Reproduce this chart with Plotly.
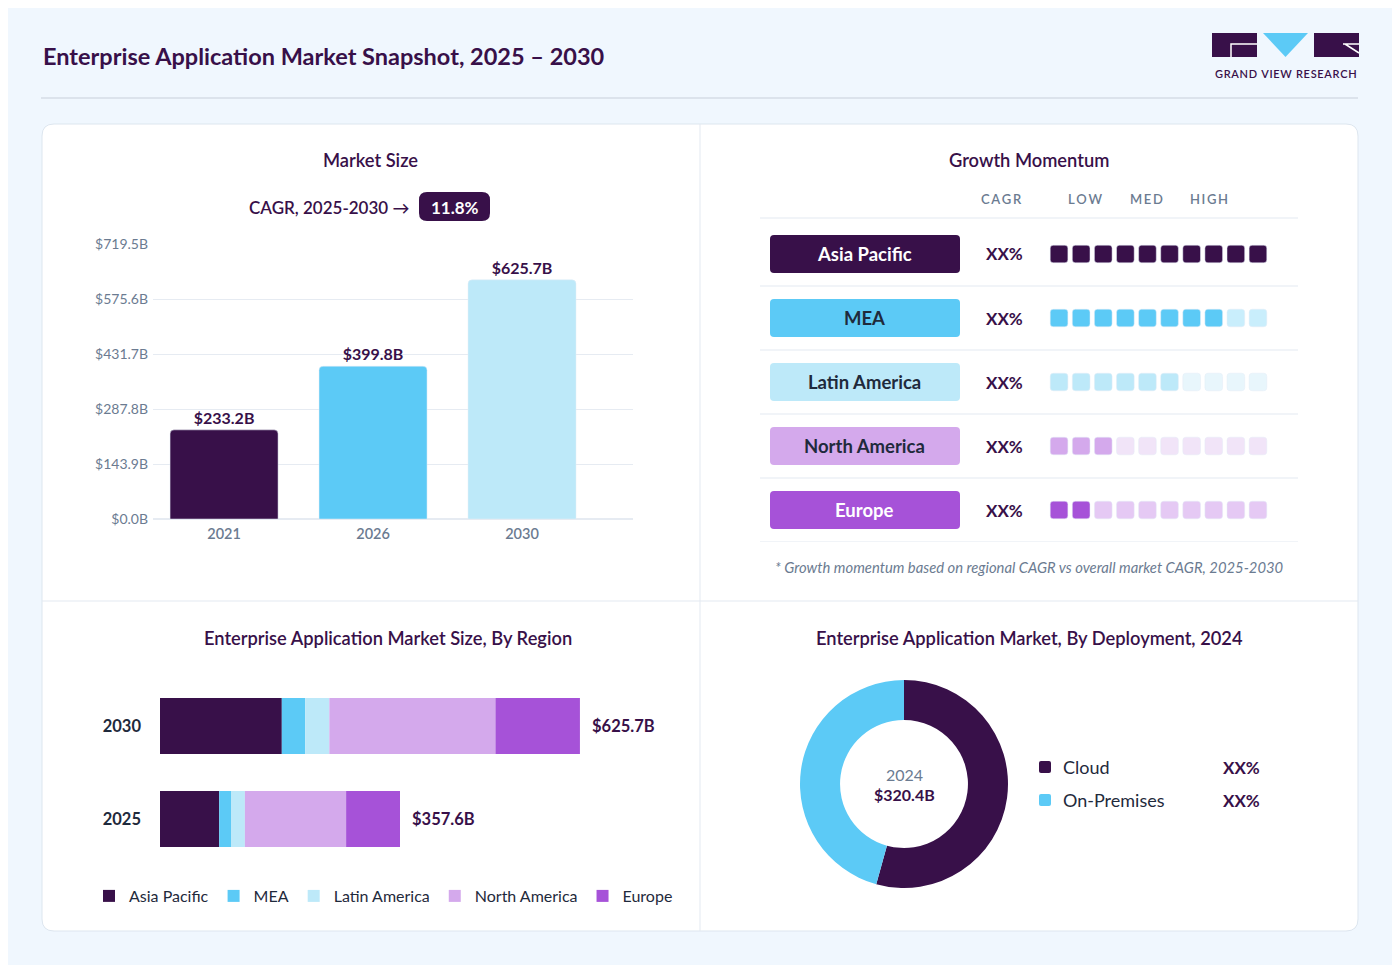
import plotly.graph_objects as go

W, H = 1400, 965
OFF = 8  # page body margin

DARK = "#381049"
BLUE = "#5ccaf6"
PALE = "#bde9f9"
LAV = "#d4a9ec"
PURP = "#a652d8"
INK = "#1f2a3c"
GREY = "#6b7b91"
LINE = "#e3e9f1"
FONT = "Lato"

# ---- data ----
size_years = ["2021", "2026", "2030"]
size_values = [233.2, 399.8, 625.7]
size_ticks = [0.0, 143.9, 287.8, 431.7, 575.6, 719.5]
size_colors = [DARK, BLUE, PALE]
cagr_text = "11.8%"

regions = ["Asia Pacific", "MEA", "Latin America", "North America", "Europe"]
region_colors = [DARK, BLUE, PALE, LAV, PURP]
region_faded = ["#d8cfe0", "#c9eefc", "#e8f6fc", "#f1e4f8", "#e5c9f4"]
region_text_colors = ["white", INK, INK, INK, "white"]
region_years = ["2025", "2030"]
region_2025 = [88.2, 17.6, 20.7, 150.8, 80.3]
region_2030 = [181.5, 34.8, 36.0, 247.5, 125.9]

momentum_cagr = ["XX%", "XX%", "XX%", "XX%", "XX%"]
momentum_score = [10, 8, 6, 3, 2]
momentum_max = 10

deploy_labels = ["Cloud", "On-Premises"]
deploy_share = [54.3, 45.7]
deploy_share_text = ["XX%", "XX%"]
deploy_colors = [DARK, BLUE]
deploy_year = "2024"
deploy_total = "$320.4B"


def fx(x):
    return (x - OFF) / W


def fy(y):
    return 1 - (y - OFF) / H


def rpath(x0, y0, x1, y1, rx, ry):
    # rounded rectangle as svg path, any axis direction
    ry = ry if y1 > y0 else -ry
    return (f"M{x0 + rx},{y0} L{x1 - rx},{y0} Q{x1},{y0} {x1},{y0 + ry} "
            f"L{x1},{y1 - ry} Q{x1},{y1} {x1 - rx},{y1} L{x0 + rx},{y1} "
            f"Q{x0},{y1} {x0},{y1 - ry} L{x0},{y0 + ry} Q{x0},{y0} {x0 + rx},{y0} Z")


def prect(x0, y0, x1, y1, r):
    return rpath(fx(x0), fy(y0), fx(x1), fy(y1), r / W, r / H)


fig = go.Figure()

# market size bars
fig.add_trace(go.Bar(
    x=size_years, y=size_values, marker=dict(color=size_colors, cornerradius=4),
    width=0.725, texttemplate="$%{y:.1f}B", textposition="outside",
    textfont=dict(size=16, color=DARK, family=FONT, weight="bold"),
    cliponaxis=False, showlegend=False, xaxis="x", yaxis="y", hoverinfo="skip",
))

# stacked region bars
base25, base30 = 0.0, 0.0
for name, c, v25, v30 in zip(regions, region_colors, region_2025, region_2030):
    fig.add_trace(go.Bar(
        y=region_years, x=[v25, v30], base=[base25, base30], orientation="h",
        name=name, marker=dict(color=c, line=dict(width=0)), width=0.6,
        xaxis="x2", yaxis="y2", hoverinfo="skip",
    ))
    base25 += v25
    base30 += v30
region_totals = [base25, base30]

# growth momentum squares
gx, gy, gb, gc = [], [], [], []
for i, score in enumerate(momentum_score):
    for k in range(1, momentum_max + 1):
        gx.append(k)
        gy.append(0.275)
        gb.append(i - 0.1375)
        gc.append(region_colors[i] if k <= score else region_faded[i])
fig.add_trace(go.Bar(
    x=gx, y=gy, base=gb, marker=dict(color=gc, cornerradius=3), width=0.8,
    xaxis="x3", yaxis="y3", showlegend=False, hoverinfo="skip",
))

# deployment donut
fig.add_trace(go.Pie(
    labels=deploy_labels, values=deploy_share, hole=0.615, sort=False,
    direction="clockwise", rotation=0, marker=dict(colors=deploy_colors, line=dict(width=0)),
    textinfo="none", showlegend=False, hoverinfo="skip",
    domain=dict(x=[fx(800), fx(1008)], y=[fy(888), fy(680)]),
))

shapes = []
ann = []


def text(t, x, y, size, color, xanchor="center", weight=None, xref="paper", yref="paper", **kw):
    f = dict(size=size, color=color, family=FONT)
    if weight:
        f["weight"] = weight
    ann.append(dict(text=t, x=x, y=y, xref=xref, yref=yref, xanchor=xanchor, yanchor="middle",
                    showarrow=False, font=f, **kw))


# card + dividers + header line
shapes.append(dict(type="path", path=prect(42, 124, 1358, 931, 12), xref="paper", yref="paper",
                   fillcolor="white", line=dict(color="#dde6ef", width=1), layer="below"))
shapes.append(dict(type="line", x0=fx(700), x1=fx(700), y0=fy(124), y1=fy(931), xref="paper",
                   yref="paper", line=dict(color=LINE, width=1), layer="below"))
shapes.append(dict(type="line", x0=fx(42), x1=fx(1358), y0=fy(601), y1=fy(601), xref="paper",
                   yref="paper", line=dict(color=LINE, width=1), layer="below"))
shapes.append(dict(type="line", x0=fx(41), x1=fx(1358), y0=fy(98), y1=fy(98), xref="paper",
                   yref="paper", line=dict(color="#dce3ec", width=2), layer="below"))

# logo
shapes.append(dict(type="rect", x0=fx(1212), x1=fx(1257), y0=fy(57), y1=fy(33), xref="paper",
                   yref="paper", fillcolor=DARK, line=dict(width=0)))
shapes.append(dict(type="path", xref="paper", yref="paper", line=dict(color="white", width=1.5),
                   path=f"M{fx(1231)},{fy(57)} L{fx(1231)},{fy(44)} L{fx(1257)},{fy(44)}"))
shapes.append(dict(type="path", xref="paper", yref="paper", fillcolor=BLUE, line=dict(width=0),
                   path=f"M{fx(1263)},{fy(33)} L{fx(1308)},{fy(33)} L{fx(1285.5)},{fy(57)} Z"))
shapes.append(dict(type="rect", x0=fx(1314), x1=fx(1359), y0=fy(57), y1=fy(33), xref="paper",
                   yref="paper", fillcolor=DARK, line=dict(width=0)))
shapes.append(dict(type="path", xref="paper", yref="paper", line=dict(color="white", width=1.5),
                   path=f"M{fx(1343)},{fy(44)} L{fx(1359)},{fy(44)} M{fx(1345)},{fy(44)} L{fx(1359)},{fy(53)}"))
text("\u200a".join("GRAND VIEW RESEARCH"), fx(1285.5), fy(73), 11, DARK, weight=600)

# title
text("<b>Enterprise Application Market Snapshot, 2025 – 2030</b>", fx(41), fy(56), 23.5, DARK,
     xanchor="left")

# panel titles
text("Market Size", fx(370), fy(160), 18.3, DARK, weight=600)
text("Growth Momentum", fx(1029), fy(160), 18.3, DARK, weight=600)
text("Enterprise Application Market Size, By Region", fx(388), fy(638), 18.3, DARK, weight=600)
text("Enterprise Application Market, By Deployment, 2024", fx(1029), fy(638), 18.3, DARK, weight=600)

# CAGR pill
text("CAGR, 2025-2030 →", fx(411), fy(207), 17, DARK, xanchor="right", weight=600)
shapes.append(dict(type="path", path=prect(419, 192, 490, 221, 8), xref="paper", yref="paper",
                   fillcolor=DARK, line=dict(width=0)))
text(f"<b>{cagr_text}</b>", fx(454.5), fy(207), 17, "white")

# region totals (category index on y2)
for k, tot in enumerate(region_totals):
    text(f"<b>${tot:.1f}B</b>", tot, k, 16.5, DARK, xanchor="left", xref="x2", yref="y2", xshift=10)

# growth momentum table
for t, x in [("CAGR", 1001), ("LOW", 1085), ("MED", 1146), ("HIGH", 1209)]:
    text("\u2009".join(t), fx(x), fy(199), 13, GREY, weight=600)
shapes.append(dict(type="line", x0=fx(760), x1=fx(1298), y0=fy(218), y1=fy(218), xref="paper",
                   yref="paper", line=dict(color=LINE, width=1)))
for i, name in enumerate(regions):
    shapes.append(dict(type="path", xref="paper", yref="y3", fillcolor=region_colors[i], line=dict(width=0),
                       path=rpath(fx(770), i - 0.297, fx(960), i + 0.297, 4 / W, 4 / 64)))
    shapes.append(dict(type="line", xref="paper", yref="y3", x0=fx(760), x1=fx(1298), y0=i + 0.5,
                       y1=i + 0.5, line=dict(color=LINE, width=1)))
    text(f"<b>{name}</b>", fx(865), i, 18.5, region_text_colors[i], yref="y3")
    text(f"<b>{momentum_cagr[i]}</b>", fx(1004), i, 17, DARK, yref="y3")
text("<i>* Growth momentum based on regional CAGR vs overall market CAGR, 2025-2030</i>",
     fx(1029), fy(567), 14.8, GREY)

# donut center + legend
text(deploy_year, fx(904), fy(774), 16, GREY)
text(f"<b>{deploy_total}</b>", fx(904), fy(794), 16, DARK)
for i, (lab, t, c) in enumerate(zip(deploy_labels, deploy_share_text, deploy_colors)):
    yy = 767 + 33 * i
    shapes.append(dict(type="path", path=prect(1039, yy - 6, 1051, yy + 6, 2), xref="paper",
                       yref="paper", fillcolor=c, line=dict(width=0)))
    text(lab, fx(1061), fy(yy), 18, INK, xanchor="left")
    text(f"<b>{t}</b>", fx(1221), fy(yy), 17, DARK, xanchor="left")

fig.update_layout(
    width=W, height=H, margin=dict(l=0, r=0, t=0, b=0, pad=0),
    paper_bgcolor="#f0f7fe", plot_bgcolor="rgba(0,0,0,0)",
    barmode="overlay", font=dict(family=FONT, color=INK),
    shapes=shapes, annotations=ann,
    xaxis=dict(domain=[fx(153), fx(633)], anchor="y", type="category", range=[-0.477, 2.745],
               showgrid=False, showline=False, ticks="", ticklabelstandoff=4,
               tickfont=dict(size=14.5, color=GREY, weight=600), automargin=False, fixedrange=True),
    yaxis=dict(domain=[fy(519), fy(244)], anchor="x", range=[0, 719.5], tickvals=size_ticks,
               ticktext=[f"${t:.1f}B" for t in size_ticks], gridcolor="#e6ebf2", zeroline=True,
               zerolinecolor="#e6ebf2", showline=False, tickfont=dict(size=14, color=GREY),
               ticklabelstandoff=4, automargin=False, fixedrange=True),
    xaxis2=dict(domain=[fx(160), fx(660)], anchor="y2", range=[0, 745], visible=False,
                automargin=False),
    yaxis2=dict(domain=[fy(865.5), fy(679.5)], anchor="x2", type="category", range=[-0.5, 1.5],
                showgrid=False, showline=False, zeroline=False, ticks="", ticklabelstandoff=18,
                automargin=False, tickfont=dict(size=16.5, color=INK, family=FONT, weight="bold")),
    xaxis3=dict(domain=[fx(1048), fx(1269)], anchor="y3", range=[0.5, 10.5], visible=False,
                automargin=False),
    yaxis3=dict(domain=[fy(542), fy(222)], anchor="x3", range=[4.5, -0.5], visible=False,
                automargin=False),
    legend=dict(orientation="h", x=fx(89), y=fy(896), xanchor="left", yanchor="middle",
                font=dict(size=16, color=INK, family=FONT), bgcolor="rgba(0,0,0,0)",
                traceorder="normal", itemclick=False, itemdoubleclick=False),
)

fig.write_html("out.html")
